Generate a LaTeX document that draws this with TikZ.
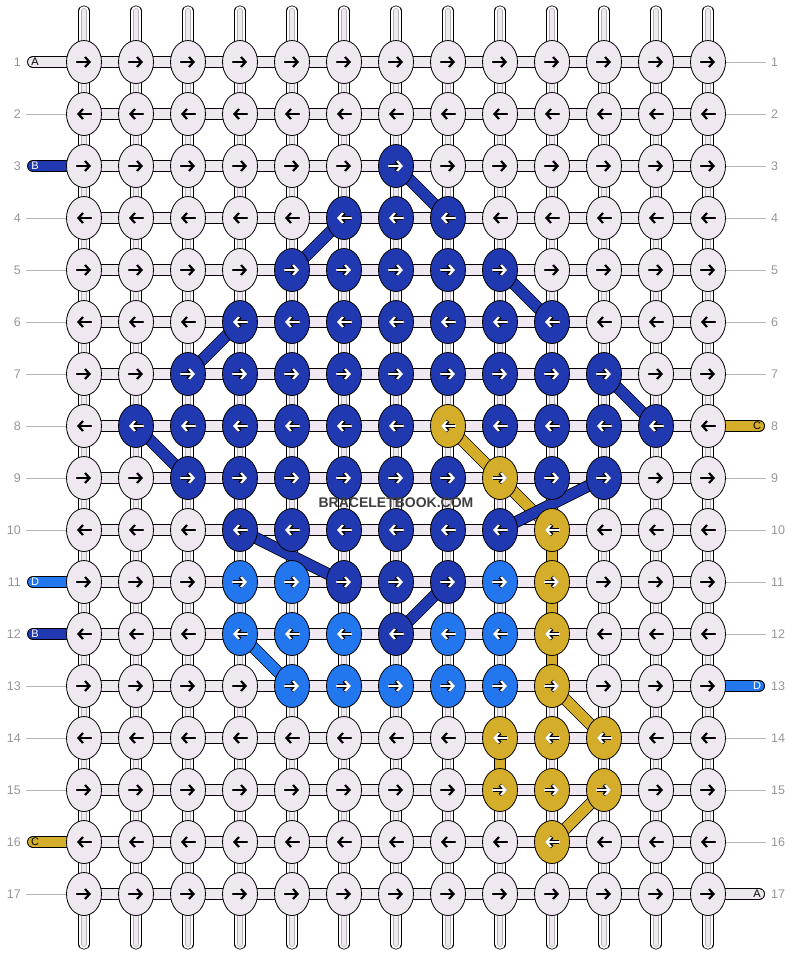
\documentclass[tikz,border=0pt]{standalone}
\usepackage{fontspec}
\setmainfont{Liberation Sans}
\usetikzlibrary{shapes.geometric,arrows.meta}
\definecolor{kw}{RGB}{240,232,240}
\definecolor{kb}{RGB}{32,56,176}
\definecolor{kl}{RGB}{34,119,238}
\definecolor{ky}{RGB}{212,174,42}
\definecolor{lbl}{RGB}{150,150,150}
\pgfdeclarelayer{background}
\pgfsetlayers{background,main}

\begin{document}
\begin{tikzpicture}[x=1pt,y=-1pt,
    knot/.style={ellipse,draw,line width=0.8pt,minimum width=35pt,
      minimum height=43pt,inner sep=0pt},
    arrkw/.style={line width=2.2pt,line cap=round,line join=round,
      -{Straight Barb[length=4.5pt,width=10pt]}},
    arrkb/.style={arrkw,white,preaction={draw=black,line width=3.8pt}},
    arrkl/.style={arrkb},
    arrky/.style={arrkb},
    vstrand/.style={draw=black,double=white,line width=0.8pt,
      double distance=9.6pt,line cap=round},
    vinner/.style={draw=black!30,double=kw,line width=0.6pt,
      double distance=4.6pt,line cap=round},
    band/.style={draw=black,double=kw,line width=0.8pt,double distance=10.4pt},
    link/.style={draw=black,line width=0.8pt,double distance=10.4pt},
    tab/.style={link,line cap=round},
    guide/.style={lbl!70,line width=0.8pt},
    rowlab/.style={text=lbl,font=\fontsize{12.5}{12.5}\selectfont,inner sep=0pt},
    tablab/.style={font=\fontsize{11}{11}\selectfont,inner sep=0pt}]

  \useasboundingbox (0,0) rectangle (792,956);

  \foreach \r/\cols in {
      1/{w,w,w,w,w,w,w,w,w,w,w,w,w},
      2/{w,w,w,w,w,w,w,w,w,w,w,w,w},
      3/{w,w,w,w,w,w,b,w,w,w,w,w,w},
      4/{w,w,w,w,w,b,b,b,w,w,w,w,w},
      5/{w,w,w,w,b,b,b,b,b,w,w,w,w},
      6/{w,w,w,b,b,b,b,b,b,b,w,w,w},
      7/{w,w,b,b,b,b,b,b,b,b,b,w,w},
      8/{w,b,b,b,b,b,b,y,b,b,b,b,w},
      9/{w,w,b,b,b,b,b,b,y,b,b,w,w},
      10/{w,w,w,b,b,b,b,b,b,y,w,w,w},
      11/{w,w,w,l,l,b,b,b,l,y,w,w,w},
      12/{w,w,w,l,l,l,b,l,l,y,w,w,w},
      13/{w,w,w,w,l,l,l,l,l,y,w,w,w},
      14/{w,w,w,w,w,w,w,w,y,y,y,w,w},
      15/{w,w,w,w,w,w,w,w,y,y,y,w,w},
      16/{w,w,w,w,w,w,w,w,w,y,w,w,w},
      17/{w,w,w,w,w,w,w,w,w,w,w,w,w}}{
    \pgfmathsetmacro\arrdir{isodd(\r)?1:-1}
    \foreach \kc [count=\c] in \cols {
      \node[knot,fill=k\kc] (k\r-\c) at ({32+52*\c},{10+52*\r}) {};
      \draw[arrk\kc] ([xshift={-7pt*\arrdir}]k\r-\c.center)
        -- ([xshift={7pt*\arrdir}]k\r-\c.center);
    }
    \node[rowlab,anchor=east] (ll\r) at (21,{10+52*\r}) {\r};
    \node[rowlab,anchor=west] (rl\r) at (771,{10+52*\r}) {\r};
  }

  \node[font=\bfseries\fontsize{14}{14}\selectfont,text=black!75] (wm) at (396,503) {BRACELETBOOK.COM};

  \begin{pgfonlayer}{background}
    \fill[white] (0,0) rectangle (792,956);
    \foreach \c in {1,...,13}{
      \coordinate (top\c) at ({32+52*\c},11);
      \coordinate (bot\c) at ({32+52*\c},944);
      \draw[vstrand] (top\c) -- (bot\c);
      \draw[vinner] (top\c) -- (bot\c);
    }
    \foreach \r in {1,...,17}
      \draw[band] (k\r-1.center) -- (k\r-13.center);

    \foreach \r in {2,4,5,6,7,8,9,10,13,14,15,17}{
      \coordinate (gl\r) at (26,{10+52*\r});
      \draw[guide] (gl\r) -- (k\r-1.center);
    }
    \foreach \r in {1,2,3,4,5,6,7,9,10,11,12,14,15,16}{
      \coordinate (gr\r) at (766,{10+52*\r});
      \draw[guide] (k\r-13.center) -- (gr\r);
    }

    \foreach \r/\col/\txt/\tc in {1/kw/A/black,3/kb/B/white,11/kl/D/white,
        12/kb/B/white,16/ky/C/black}{
      \coordinate (tl\r) at (33,{10+52*\r});
      \draw[tab,double=\col] (tl\r) -- (k\r-1.center);
      \node[tablab,text=\tc] (ta\r) at (35,{10+52*\r}) {\txt};
    }
    \foreach \r/\col/\txt/\tc in {8/ky/C/black,13/kl/D/white,17/kw/A/black}{
      \coordinate (tr\r) at (759,{10+52*\r});
      \draw[tab,double=\col] (k\r-13.center) -- (tr\r);
      \node[tablab,text=\tc] (tb\r) at (757,{10+52*\r}) {\txt};
    }

    \foreach \src/\dst/\lc in {8-8/9-9/ky,9-9/10-10/ky,10-10/11-10/ky,
        11-10/12-10/ky,12-10/13-10/ky,13-10/14-11/ky,14-9/15-9/ky,
        15-11/16-10/ky,12-4/13-5/kl,3-7/4-8/kb,4-6/5-5/kb,5-9/6-10/kb,
        6-4/7-3/kb,7-11/8-12/kb,8-2/9-3/kb,9-11/10-9/kb,10-4/11-6/kb,
        11-8/12-7/kb}
      \draw[link,double=\lc] (k\src.center) -- (k\dst.center);
  \end{pgfonlayer}
\end{tikzpicture}
\end{document}
